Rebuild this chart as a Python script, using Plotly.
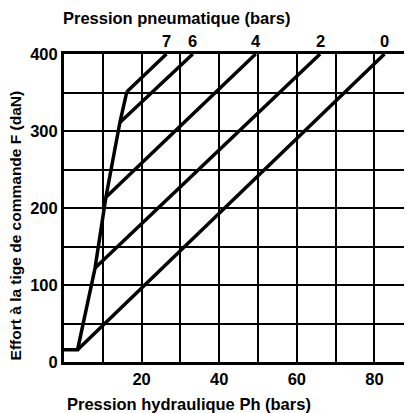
import plotly.graph_objects as go

# Envelope (steep limit curve)
env_x = [0, 3.5, 8.0, 10.8, 14.4, 16.2]
env_y = [16, 16, 122, 214, 311, 351]

# Pneumatic pressure lines (bars): start point on envelope, end at top
pressures = ["7", "6", "4", "2", "0"]
line_x0 = [16.2, 14.4, 10.8, 8.0, 3.5]
line_y0 = [351, 311, 214, 122, 16]
line_x1 = [26.4, 33.2, 49.4, 66.0, 82.6]
line_y1 = [400, 400, 400, 400, 400]

x_ticks = [10, 20, 30, 40, 50, 60, 70, 80]
x_labels = ["", "20", "", "40", "", "60", "", "80"]
y_ticks = [0, 50, 100, 150, 200, 250, 300, 350, 400]
y_labels = ["0", "", "100", "", "200", "", "300", "", "400"]

FONT = dict(family="Liberation Sans, Arial, sans-serif", size=16.5, color="black", weight="bold")
YTFONT = dict(family="Liberation Sans, Arial, sans-serif", size=15.5, color="black", weight="bold")

fig = go.Figure()
fig.add_trace(go.Scatter(x=env_x, y=env_y, mode="lines",
                         line=dict(color="black", width=3.5), showlegend=False))
for i in range(len(pressures)):
    fig.add_trace(go.Scatter(x=[line_x0[i], line_x1[i]], y=[line_y0[i], line_y1[i]],
                             mode="lines", line=dict(color="black", width=3.5),
                             showlegend=False))
    fig.add_annotation(x=line_x1[i], y=line_y1[i], text=pressures[i], showarrow=False,
                       yanchor="bottom", yshift=2, font=FONT)

fig.update_xaxes(range=[0, 88.4], tickvals=x_ticks, ticktext=x_labels,
                 showgrid=True, gridcolor="black", gridwidth=2.2,
                 showline=True, linecolor="black", linewidth=3, mirror=True,
                 ticks="", zeroline=False, tickfont=FONT)
fig.update_yaxes(range=[0, 400], tickvals=y_ticks, ticktext=y_labels,
                 showgrid=True, gridcolor="black", gridwidth=2.2,
                 showline=True, linecolor="black", linewidth=3, mirror=True,
                 ticks="", zeroline=False, tickfont=FONT)

fig.add_annotation(xref="paper", yref="paper", x=(177 - 64) / 346, y=1 + (54 - 18) / 308,
                   text="Pression pneumatique (bars)", showarrow=False,
                   xanchor="center", yanchor="middle", font=FONT)
fig.add_annotation(xref="paper", yref="paper", x=(190 - 64) / 346, y=-(404 - 362) / 308,
                   text="Pression hydraulique Ph (bars)", showarrow=False,
                   xanchor="center", yanchor="middle", font=FONT)
fig.add_annotation(xref="paper", yref="paper", x=-(64 - 15) / 346, y=(362 - 225) / 308,
                   text="Effort à la tige de commande F (daN)", showarrow=False,
                   textangle=-90, xanchor="center", yanchor="middle", font=YTFONT)

fig.update_layout(width=404, height=405, margin=dict(l=56, r=2, t=46, b=51),
                  paper_bgcolor="white", plot_bgcolor="white", font=FONT)
fig.write_html("out.html")
